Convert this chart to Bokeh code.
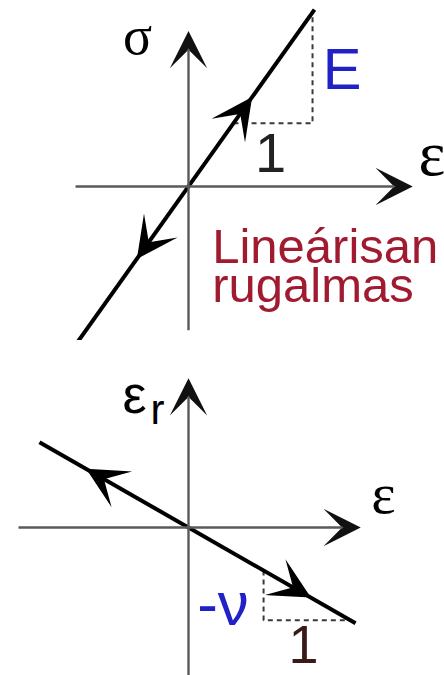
from bokeh.plotting import figure
from bokeh.layouts import column
from bokeh.models import Arrow, VeeHead, Label, Range1d
from bokeh.embed import file_html
from bokeh.resources import INLINE

# --- upper diagram: stress σ against strain ε (linear elastic) ---
eps_line = [-1.405, 1.595]
sigma_line = [-1.97, 2.24]
# unit step of the slope triangle (rise = E)
tri_eps = [0.57, 1.57]
tri_sigma = [0.80, 2.21]
# arrowheads along the loading line: (ε, σ) of the tips
load_tips_eps = [0.785, -0.633]
load_tips_sigma = [1.103, -0.889]

# --- lower diagram: transverse strain ε_r against strain ε ---
eps2_line = [-1.713, 1.92]
epsr_line = [0.981, -1.10]
tri2_eps = [0.863, 1.863]
tri2_epsr = [-0.495, -1.067]
lat_tips_eps = [-1.149, 1.379]
lat_tips_epsr = [0.658, -0.790]

SANS = "Liberation Sans"
SERIF = "Liberation Serif"
BLUE = "#2121c8"
DARKRED = "#a01b30"
AXIS = "#5a5a5a"


def panel(height, x0, x1, y0, y1):
    p = figure(width=444, height=height, x_range=Range1d(x0, x1),
               y_range=Range1d(y0, y1), output_backend="svg",
               toolbar_location=None, x_axis_location=None,
               y_axis_location=None, min_border=0)
    p.grid.visible = False
    p.outline_line_color = None
    p.background_fill_color = "white"
    p.border_fill_color = "white"
    return p


def axis_arrow(p, xs, ys, xe, ye):
    p.add_layout(Arrow(end=VeeHead(size=30, fill_color="#111111", line_color="#111111",
                                   line_width=2, line_join="miter"),
                       x_start=xs, y_start=ys, x_end=xe, y_end=ye,
                       line_color=AXIS, line_width=2.4))


def line_head(p, xt, yt, dx, dy):
    p.add_layout(Arrow(end=VeeHead(size=32, fill_color="black", line_color="black",
                                   line_width=2.5, line_join="miter"),
                       x_start=xt - dx, y_start=yt - dy, x_end=xt, y_end=yt,
                       line_alpha=0, line_width=1))


def label(p, x, y, text, size, color="black", font=SANS, align="left"):
    p.add_layout(Label(x=x, y=y, text=text, text_font=font,
                       text_font_size=f"{size}px", text_color=color,
                       text_align=align, text_baseline="alphabetic"))


# upper panel: 79 px per unit, origin at (188, 186)
top = panel(340, -188 / 79, 256 / 79, -154 / 79, 186 / 79)
axis_arrow(top, -1.43, 0, 2.81, 0)
axis_arrow(top, 0, -1.82, 0, 1.94)
top.line([tri_eps[0], tri_eps[1], tri_eps[1]], [tri_sigma[0], tri_sigma[0], tri_sigma[1]],
         line_color="#3a3a3a", line_width=2, line_dash="5 4")
top.line(eps_line, sigma_line, line_color="black", line_width=4)
k_top = (sigma_line[1] - sigma_line[0]) / (eps_line[1] - eps_line[0])
line_head(top, load_tips_eps[0], load_tips_sigma[0], 0.1, 0.1 * k_top)
line_head(top, load_tips_eps[1], load_tips_sigma[1], -0.1, -0.1 * k_top)
label(top, -0.646, 1.90, "σ", 54, font=SERIF, align="center")
label(top, 1.70, 1.49, "E", 58, color=BLUE)
label(top, 1.038, 0.42, "1", 56, color="#222222", align="center")
label(top, 3.08, 0.42, "ε", 64, font=SERIF, align="center")
label(top, 0.30, -0.75, "Lineárisan", 49, color=DARKRED)
label(top, 0.30, -1.25, "rugalmas", 49, color=DARKRED)

# lower panel: 87 px per unit, origin at (188, 187)
bot = panel(335, -188 / 87, 256 / 87, -148 / 87, 187 / 87)
axis_arrow(bot, -1.954, 0, 1.954, 0)
axis_arrow(bot, 0, -1.75, 0, 1.69)
bot.line([tri2_eps[0], tri2_eps[0], tri2_eps[1]], [tri2_epsr[0], tri2_epsr[1], tri2_epsr[1]],
         line_color="#3a3a3a", line_width=2, line_dash="5 4")
bot.line(eps2_line, epsr_line, line_color="black", line_width=4)
k_bot = (epsr_line[1] - epsr_line[0]) / (eps2_line[1] - eps2_line[0])
line_head(bot, lat_tips_eps[0], lat_tips_epsr[0], -0.1, -0.1 * k_bot)
line_head(bot, lat_tips_eps[1], lat_tips_epsr[1], 0.1, 0.1 * k_bot)
label(bot, -0.621, 1.54, "ε", 54, align="center")
label(bot, -0.437, 1.36, "r", 42)
label(bot, 2.241, 0.39, "ε", 58, font=SERIF, align="center")
label(bot, 0.10, -0.87, "-ν", 62, color=BLUE)
label(bot, 1.322, -1.35, "1", 54, color="#3a1a16", align="center")

layout = column(top, bot, spacing=0)
open("out.html", "w").write(file_html(layout, INLINE))
